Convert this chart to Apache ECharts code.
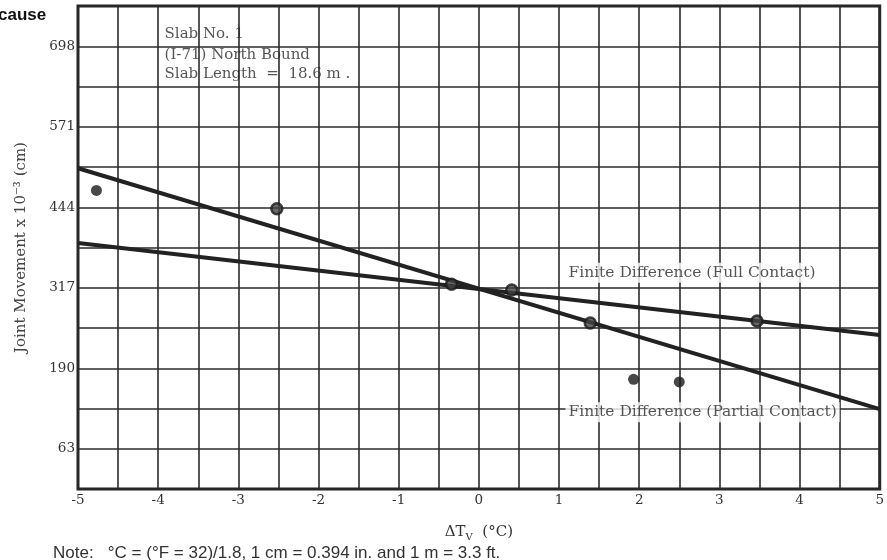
<!DOCTYPE html>
<html>
<head>
<meta charset="utf-8">
<script src="https://cdn.jsdelivr.net/npm/echarts@6/dist/echarts.min.js"></script>
<style>
  html, body { margin: 0; padding: 0; background: #fff; }
  #chart { width: 887px; height: 560px; }
</style>
</head>
<body>
<div id="chart"></div>
<script>
// x axis: temperature difference, y axis: joint movement (x 10^-3 cm)
const xMin = -5;
const xMax = 5;
const yMax = 762;
const yStep = 63.5;

// straight fitted lines (end points)
const fullContact = [[-5, 388], [5, 243]];
const partialContact = [[-5, 506], [5, 126]];

// measured points
const solidPoints = [[-4.77, 471], [1.93, 173], [2.5, 169]];
const ringPoints = [[-2.52, 442], [-0.34, 323], [0.41, 314], [1.39, 262], [3.47, 265]];

// text placed in data coordinates
const lineLabels = [
  { value: [1.08, 341], text: 'Finite Difference (Full Contact)' },
  { value: [1.08, 121], text: 'Finite Difference (Partial Contact)' }
];
const slabNotes = [
  { value: [-3.92, 717], text: 'Slab No. 1' },
  { value: [-3.92, 684], text: '(I-71) North Bound' },
  { value: [-3.92, 654], text: 'Slab Length  =  18.6 m .' }
];

const serif = '"DejaVu Serif", serif';
const ink = '#222';

const chart = echarts.init(document.getElementById('chart'));

chart.setOption({
  backgroundColor: '#fff',
  animation: false,
  grid: {
    left: 78,
    right: 3,
    top: 6,
    bottom: 71,
    show: true,
    borderColor: ink,
    borderWidth: 3
  },
  xAxis: {
    type: 'value',
    min: xMin,
    max: xMax,
    interval: 0.5,
    axisLine: { show: false },
    axisTick: { show: false },
    axisLabel: {
      color: '#333',
      fontFamily: serif,
      fontSize: 13.5,
      margin: 4,
      showMinLabel: true,
      showMaxLabel: true,
      formatter: v => (Number.isInteger(v) ? String(v) : '')
    },
    splitLine: { show: true, lineStyle: { color: '#2a2a2a', width: 1.6 } },
    name: '{a|ΔT}{s|V}{a|  (°C)}',
    nameLocation: 'middle',
    nameGap: 34,
    nameTextStyle: {
      rich: {
        a: { fontFamily: serif, fontSize: 15, color: '#333' },
        s: { fontFamily: serif, fontSize: 10, color: '#333', verticalAlign: 'bottom', padding: [9, 0, 0, 0] }
      }
    }
  },
  yAxis: {
    type: 'value',
    min: 0,
    max: yMax,
    interval: yStep,
    axisLine: { show: false },
    axisTick: { show: false },
    axisLabel: {
      color: '#333',
      fontFamily: serif,
      fontSize: 13.5,
      margin: 3,
      formatter: v => (Math.round(v / yStep) % 2 === 1 ? String(Math.floor(v)) : '')
    },
    splitLine: { show: true, lineStyle: { color: '#2a2a2a', width: 1.6 } },
    name: 'Joint Movement x 10⁻³ (cm)',
    nameLocation: 'middle',
    nameRotate: 90,
    nameGap: 49,
    nameTextStyle: { fontFamily: serif, fontSize: 15, color: '#444' }
  },
  series: [
    {
      type: 'line',
      data: fullContact,
      symbol: 'none',
      lineStyle: { color: ink, width: 4 },
      z: 3
    },
    {
      type: 'line',
      data: partialContact,
      symbol: 'none',
      lineStyle: { color: ink, width: 4 },
      z: 3
    },
    {
      type: 'scatter',
      data: solidPoints,
      symbolSize: 11,
      itemStyle: { color: '#1a1a1a' },
      z: 5
    },
    {
      type: 'scatter',
      data: ringPoints,
      symbolSize: 11,
      itemStyle: { color: '#444', borderColor: '#1a1a1a', borderWidth: 2.5 },
      z: 5
    },
    {
      type: 'scatter',
      data: lineLabels,
      symbolSize: 0,
      z: 6,
      label: {
        show: true,
        position: 'right',
        distance: 0,
        formatter: p => p.data.text,
        fontFamily: serif,
        fontSize: 15.5,
        color: '#2a2a2a',
        backgroundColor: '#fff',
        padding: [2, 3]
      }
    },
    {
      type: 'scatter',
      data: slabNotes,
      symbolSize: 0,
      z: 6,
      label: {
        show: true,
        position: 'right',
        distance: 0,
        formatter: p => p.data.text,
        fontFamily: serif,
        fontSize: 15,
        color: '#2a2a2a'
      }
    }
  ],
  graphic: [
    {
      type: 'text',
      left: -2,
      top: 7,
      style: {
        text: 'cause',
        font: 'bold 17px "Liberation Sans", Arial, sans-serif',
        fill: '#111'
      }
    },
    {
      type: 'text',
      left: 53,
      top: 545,
      style: {
        text: 'Note:   °C = (°F = 32)/1.8, 1 cm = 0.394 in. and 1 m = 3.3 ft.',
        font: '17px "Liberation Sans", Arial, sans-serif',
        fill: '#333'
      }
    }
  ]
});
</script>
</body>
</html>
